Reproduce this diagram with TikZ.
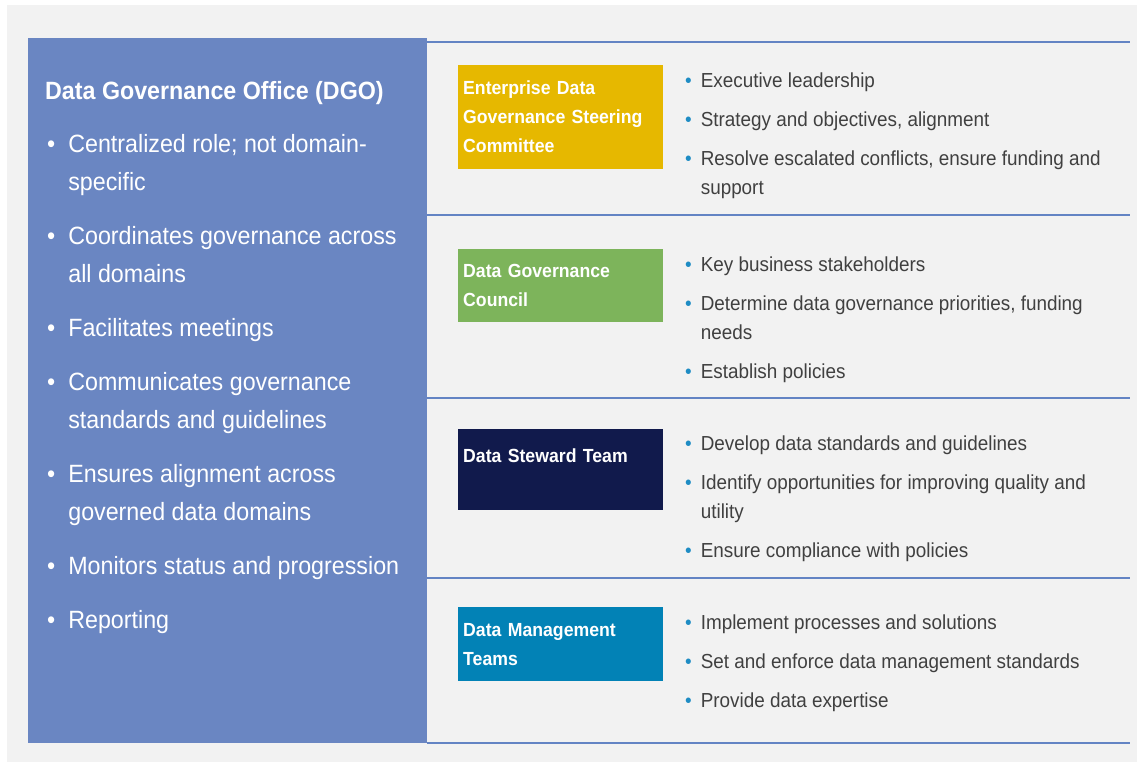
\documentclass[tikz,border=0pt]{standalone}
\usepackage{fontspec}
\setmainfont{Liberation Sans}[FakeStretch=0.93]
\usetikzlibrary{positioning}

\definecolor{dgoblue}{HTML}{6A86C2}
\definecolor{panelgray}{HTML}{F2F2F2}
\definecolor{ruleblue}{HTML}{6384C4}
\definecolor{escgold}{HTML}{E6B800}
\definecolor{dgcgreen}{HTML}{7DB45B}
\definecolor{dstnavy}{HTML}{111A4C}
\definecolor{dmtteal}{HTML}{0282B6}
\definecolor{txtgray}{HTML}{404040}
\definecolor{dotblue}{HTML}{1E8CC4}

\newcommand{\rbul}{\textcolor{dotblue}{\textbullet}}

\begin{document}
\begin{tikzpicture}[x=1pt,y=-1pt,
  panel/.style={anchor=north west, fill=dgoblue, inner sep=0, minimum width=399pt, minimum height=705pt},
  rolebox/.style={anchor=north west, inner sep=5pt, minimum width=205pt, minimum height=#1,
    text width=195pt, align=left, text=white, font=\fontsize{19}{29}\selectfont\bfseries},
  rolelist/.style={anchor=base west, inner sep=0, text=txtgray, font=\fontsize{20.3}{29}\selectfont},
  rule/.style={draw=ruleblue, line width=2pt}]

  \useasboundingbox (0,0) rectangle (1137,763);
  \fill[white] (0,0) rectangle (1137,763);
  \fill[panelgray] (7,5) rectangle (1137,762);

  % left: the office
  \node[panel] (dgo) at (28,38) {};
  \node[anchor=base west, inner sep=0, text=white, font=\fontsize{25}{38}\selectfont\bfseries] (dgottl) at (45,99)
      {Data Governance Office (DGO)};
  \node[anchor=base west, inner sep=0, text=white, font=\fontsize{25}{38}\selectfont] (dgolist) at (47,152)
      {\begin{tabular}[t]{@{}l@{\hspace{13pt}}l@{}}
        \textbullet & Centralized role; not domain-\\
                    & specific\\[16pt]
        \textbullet & Coordinates governance across\\
                    & all domains\\[16pt]
        \textbullet & Facilitates meetings\\[16pt]
        \textbullet & Communicates governance\\
                    & standards and guidelines\\[16pt]
        \textbullet & Ensures alignment across\\
                    & governed data domains\\[16pt]
        \textbullet & Monitors status and progression\\[16pt]
        \textbullet & Reporting
      \end{tabular}};

  % right: separators
  \draw[rule] (dgo.north east |- 0,42) -- (1130,42);
  \draw[rule] (dgo.north east |- 0,215) -- (1130,215);
  \draw[rule] (dgo.north east |- 0,398) -- (1130,398);
  \draw[rule] (dgo.north east |- 0,578) -- (1130,578);
  \draw[rule] (dgo.north east |- 0,743) -- (1130,743);

  % right: the bodies
  \node[rolebox=104pt, fill=escgold] (esc) at (458,65) {Enterprise Data\\Governance Steering\\Committee};
  \node[rolebox=73pt, fill=dgcgreen] (dgc) at (458,249) {Data Governance\\Council};
  \node[rolebox=81pt, fill=dstnavy] (dst) at (458,429) {Data Steward Team\\\mbox{}};
  \node[rolebox=74pt, fill=dmtteal] (dmt) at (458,607) {Data Management\\Teams};

  \node[rolelist] (esclist) at (685,87)
      {\begin{tabular}[t]{@{}l@{\hspace{9pt}}l@{}}
        \rbul & Executive leadership\\[10pt]
        \rbul & Strategy and objectives, alignment\\[10pt]
        \rbul & Resolve escalated conflicts, ensure funding and\\
              & support
      \end{tabular}};
  \node[rolelist] (dgclist) at (685,271)
      {\begin{tabular}[t]{@{}l@{\hspace{9pt}}l@{}}
        \rbul & Key business stakeholders\\[10pt]
        \rbul & Determine data governance priorities, funding\\
              & needs\\[10pt]
        \rbul & Establish policies
      \end{tabular}};
  \node[rolelist] (dstlist) at (685,450)
      {\begin{tabular}[t]{@{}l@{\hspace{9pt}}l@{}}
        \rbul & Develop data standards and guidelines\\[10pt]
        \rbul & Identify opportunities for improving quality and\\
              & utility\\[10pt]
        \rbul & Ensure compliance with policies
      \end{tabular}};
  \node[rolelist] (dmtlist) at (685,629)
      {\begin{tabular}[t]{@{}l@{\hspace{9pt}}l@{}}
        \rbul & Implement processes and solutions\\[10pt]
        \rbul & Set and enforce data management standards\\[10pt]
        \rbul & Provide data expertise
      \end{tabular}};
\end{tikzpicture}
\end{document}
